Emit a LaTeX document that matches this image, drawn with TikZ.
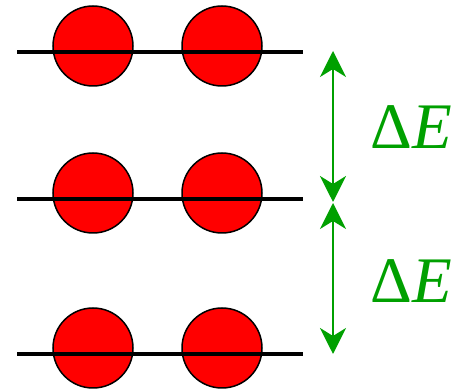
\documentclass[tikz,border=0pt]{standalone}
\usepackage{fontspec}
\setmainfont{Liberation Serif}
\usetikzlibrary{arrows.meta}
\definecolor{levelgreen}{RGB}{0,160,0}

\begin{document}
\begin{tikzpicture}[x=1pt,y=1pt,
    atom/.style={circle, draw=black, line width=1.5pt, fill=red, minimum size=80pt, inner sep=0pt},
    gap/.style={levelgreen, line width=2pt, {Stealth[length=26pt,width=26pt,inset=8pt]}-{Stealth[length=26pt,width=26pt,inset=8pt]}},
    gaplabel/.style={text=levelgreen, font=\fontsize{65}{65}\selectfont, inner sep=0pt}]
    \useasboundingbox (0,0) rectangle (466,390);
    % three levels, two atoms each
    \foreach \n/\y in {top/338,mid/191,bot/36} {
        \node[atom] (\n a) at (93,\y+6) {};
        \node[atom] (\n b) at (222,\y+6) {};
        \coordinate (\n l) at (17,\y);
        \coordinate (\n r) at (303,\y);
        \draw[line width=4.5pt] (\n l) -- (\n r);
      }
    \coordinate (g1) at (333,339);
    \coordinate (g2) at (333,188);
    \coordinate (g3) at (333,187);
    \coordinate (g4) at (333,36);
    \draw[gap] (g1) -- (g2);
    \draw[gap] (g3) -- (g4);
    \node[gaplabel] (e1) at (411,263) {Δ\itshape E};
    \node[gaplabel] (e2) at (411,109) {Δ\itshape E};
  \end{tikzpicture}
\end{document}
